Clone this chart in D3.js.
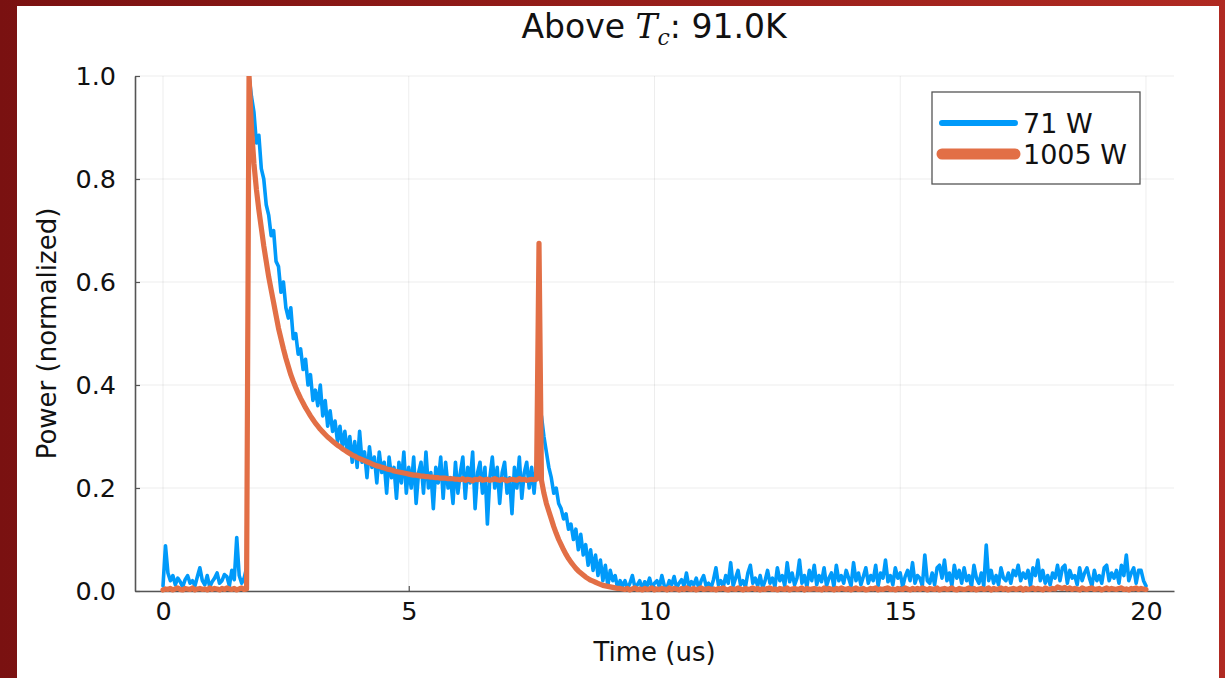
<!DOCTYPE html>
<html>
<head>
<meta charset="utf-8">
<script src="https://cdn.jsdelivr.net/npm/d3@7"></script>
<style>
  html, body { margin: 0; padding: 0; background: #8a1414; }
  svg { display: block; }
  text { font-family: "DejaVu Sans", sans-serif; fill: #111; }
</style>
</head>
<body>
<svg id="chart" width="1225" height="678"></svg>
<script>
// ---------------- data ----------------
const title = "Above ";
const titleMath = "T";
const titleSub = "c";
const titleRest = ": 91.0K";
const xLabel = "Time (us)";
const yLabel = "Power (normalized)";
const seriesNames = ["71 W", "1005 W"];
const xTicks = [0, 5, 10, 15, 20];
const yTicks = [0.0, 0.2, 0.4, 0.6, 0.8, 1.0];
const xDomain = [-0.57, 20.57];
const yDomain = [0, 1];
const timeStart = 0;     // us
const timeStep = 0.05;   // us, sample spacing

// 71 W (blue), one value per sample
const power71 = [
  // 0.00 - 1.70
  0.01, 0.088, 0.035, 0.02, 0.03, 0.012, 0.025, 0.018, 0.008, 0.022,
  0.03, 0.015, 0.02, 0.01, 0.028, 0.045, 0.02, 0.012, 0.03, 0.008,
  0.018, 0.025, 0.035, 0.015, 0.02, 0.032, 0.028, 0.01, 0.04, 0.022,
  0.104, 0.03, 0.015, 0.025, 0.045,
  // 1.75 - 7.65
  1.0, 0.96, 0.93, 0.87, 0.885, 0.82, 0.80, 0.75, 0.73, 0.69,
  0.70, 0.64, 0.63, 0.58, 0.60, 0.55, 0.53, 0.55, 0.49, 0.50,
  0.46, 0.47, 0.43, 0.45, 0.40, 0.42, 0.37, 0.39, 0.36, 0.40,
  0.34, 0.37, 0.32, 0.35, 0.31, 0.33, 0.29, 0.32, 0.28, 0.31,
  0.27, 0.30, 0.25, 0.29, 0.24, 0.31, 0.25, 0.27, 0.22, 0.28,
  0.24, 0.26, 0.21, 0.27, 0.23, 0.25, 0.19, 0.26, 0.22, 0.24,
  0.18, 0.25, 0.21, 0.27, 0.19, 0.24, 0.20, 0.26, 0.17, 0.23,
  0.25, 0.19, 0.27, 0.20, 0.23, 0.16, 0.24, 0.21, 0.26, 0.18,
  0.25, 0.20, 0.22, 0.17, 0.25, 0.19, 0.23, 0.26, 0.18, 0.24,
  0.21, 0.27, 0.16, 0.23, 0.25, 0.19, 0.24, 0.13, 0.22, 0.26,
  0.20, 0.24, 0.17, 0.23, 0.25, 0.19, 0.22, 0.15, 0.24, 0.20,
  0.26, 0.18, 0.23, 0.25, 0.20, 0.24, 0.19, 0.25, 0.22,
  // 7.70 - 9.30
  0.34, 0.30, 0.27, 0.24, 0.22, 0.19, 0.20, 0.17, 0.16, 0.14,
  0.15, 0.12, 0.13, 0.10, 0.12, 0.08, 0.11, 0.07, 0.09, 0.05,
  0.08, 0.04, 0.07, 0.03, 0.06, 0.02, 0.05, 0.01, 0.04, 0.02,
  0.03, 0.005, 0.02,
  // 9.35 - 20.00
  0.01, 0.02, 0.005, 0.015, 0.03, 0.008, 0.012, 0.02, 0.004, 0.018, 0.01, 0.025, 0.006, 0.015, 0.02, 0.008, 0.03, 0.01, 0.005, 0.02,
  0.012, 0.028, 0.006, 0.015, 0.022, 0.01, 0.035, 0.008, 0.018, 0.012, 0.025, 0.005, 0.02, 0.03, 0.01, 0.015, 0.006, 0.022, 0.045, 0.012,
  0.02, 0.008, 0.03, 0.015, 0.055, 0.01, 0.025, 0.04, 0.012, 0.02, 0.008, 0.035, 0.05, 0.015, 0.025, 0.01, 0.03, 0.006, 0.02, 0.04,
  0.015, 0.025, 0.008, 0.045, 0.02, 0.03, 0.01, 0.055, 0.018, 0.035, 0.012, 0.025, 0.06, 0.015, 0.03, 0.008, 0.04, 0.02, 0.05, 0.012,
  0.03, 0.018, 0.045, 0.01, 0.025, 0.035, 0.008, 0.05, 0.02, 0.03, 0.015, 0.04, 0.025, 0.01, 0.055, 0.02, 0.035, 0.012, 0.028, 0.045,
  0.015, 0.03, 0.02, 0.05, 0.01, 0.035, 0.025, 0.06, 0.018, 0.03, 0.012, 0.045, 0.025, 0.035, 0.008, 0.028, 0.04, 0.02, 0.055, 0.015,
  0.03, 0.025, 0.01, 0.07, 0.02, 0.015, 0.035, 0.012, 0.045, 0.05, 0.025, 0.06, 0.02, 0.035, 0.01, 0.05, 0.025, 0.04, 0.015, 0.045,
  0.02, 0.03, 0.008, 0.05, 0.025, 0.015, 0.035, 0.01, 0.089, 0.02, 0.04, 0.015, 0.03, 0.012, 0.045, 0.025, 0.02, 0.035, 0.015, 0.04,
  0.03, 0.05, 0.02, 0.035, 0.025, 0.04, 0.01, 0.045, 0.03, 0.06, 0.02, 0.04, 0.015, 0.03, 0.012, 0.035, 0.025, 0.05, 0.02, 0.045,
  0.05, 0.015, 0.04, 0.025, 0.03, 0.012, 0.045, 0.02, 0.035, 0.045, 0.025, 0.01, 0.04, 0.02, 0.03, 0.015, 0.045, 0.05, 0.02, 0.035,
  0.025, 0.04, 0.015, 0.05, 0.03, 0.07, 0.02, 0.035, 0.045, 0.015, 0.04, 0.04, 0.02, 0.01
];

// 1005 W (orange), one value per sample
const power1005 = [
  // 0.00 - 1.70
  0.002, 0.004, 0.003, 0.005, 0.002, 0.004, 0.006, 0.003, 0.002, 0.005,
  0.004, 0.003, 0.006, 0.002, 0.004, 0.005, 0.003, 0.004, 0.002, 0.006,
  0.003, 0.005, 0.004, 0.002, 0.005, 0.003, 0.006, 0.004, 0.003, 0.005,
  0.002, 0.004, 0.006, 0.003, 0.004,
  // 1.75 - 5.00
  1.0, 0.90, 0.83, 0.78, 0.74, 0.705, 0.67, 0.64, 0.61, 0.585,
  0.56, 0.535, 0.51, 0.49, 0.47, 0.452, 0.436, 0.42, 0.407, 0.395,
  0.384, 0.374, 0.365, 0.356, 0.348, 0.34, 0.333, 0.326, 0.32, 0.314,
  0.309, 0.304, 0.299, 0.295, 0.291, 0.287, 0.283, 0.28, 0.276, 0.273,
  0.27, 0.267, 0.264, 0.262, 0.259, 0.257, 0.255, 0.253, 0.251, 0.249,
  0.247, 0.245, 0.243, 0.242, 0.240, 0.239, 0.237, 0.236, 0.235, 0.233,
  0.232, 0.231, 0.23, 0.229, 0.228, 0.227,
  // 5.05 - 6.00
  0.226, 0.225, 0.225, 0.224, 0.223, 0.223, 0.222, 0.222, 0.221, 0.221,
  0.220, 0.220, 0.219, 0.219, 0.219, 0.218, 0.218, 0.218, 0.217, 0.217,
  // 6.05 - 7.60
  0.216, 0.218, 0.215, 0.217, 0.216, 0.214, 0.217, 0.216, 0.218, 0.215,
  0.216, 0.217, 0.215, 0.216, 0.218, 0.216, 0.215, 0.217, 0.216, 0.214,
  0.216, 0.217, 0.216, 0.215, 0.218, 0.216, 0.217, 0.215, 0.216, 0.217,
  0.216, 0.217,
  // 7.65 spike
  0.675,
  // 7.70 - 9.30
  0.215, 0.19, 0.17, 0.155, 0.14, 0.125, 0.112, 0.1, 0.09, 0.08,
  0.071, 0.063, 0.056, 0.05, 0.044, 0.039, 0.035, 0.031, 0.027, 0.024,
  0.021, 0.019, 0.017, 0.015, 0.013, 0.011, 0.01, 0.009, 0.008, 0.007,
  0.006, 0.005, 0.005,
  // 9.35 - 20.00
  0.004, 0.003, 0.005, 0.002, 0.004, 0.006, 0.003, 0.004, 0.002, 0.005, 0.003, 0.004, 0.006, 0.002, 0.004, 0.003, 0.005, 0.004, 0.002, 0.006,
  0.003, 0.005, 0.004, 0.002, 0.005, 0.003, 0.006, 0.004, 0.003, 0.005, 0.002, 0.004, 0.006, 0.003, 0.004, 0.005, 0.003, 0.004, 0.002, 0.005,
  0.004, 0.006, 0.003, 0.002, 0.005, 0.004, 0.003, 0.006, 0.004, 0.002, 0.005, 0.003, 0.004, 0.006, 0.003, 0.005, 0.002, 0.004, 0.003, 0.005,
  0.006, 0.003, 0.004, 0.002, 0.005, 0.004, 0.003, 0.006, 0.002, 0.004, 0.005, 0.003, 0.004, 0.006, 0.002, 0.005, 0.003, 0.004, 0.005, 0.003,
  0.004, 0.002, 0.006, 0.003, 0.005, 0.004, 0.002, 0.005, 0.003, 0.006, 0.004, 0.003, 0.005, 0.002, 0.004, 0.006, 0.003, 0.004, 0.005, 0.002,
  0.003, 0.005, 0.004, 0.006, 0.002, 0.004, 0.003, 0.005, 0.006, 0.003, 0.004, 0.002, 0.005, 0.004, 0.003, 0.006, 0.004, 0.002, 0.005, 0.003,
  0.005, 0.003, 0.006, 0.004, 0.002, 0.005, 0.004, 0.003, 0.006, 0.002, 0.004, 0.005, 0.003, 0.004, 0.006, 0.003, 0.002, 0.005, 0.004, 0.003,
  0.004, 0.006, 0.003, 0.005, 0.002, 0.004, 0.005, 0.003, 0.004, 0.006, 0.002, 0.005, 0.003, 0.004, 0.006, 0.003, 0.005, 0.002, 0.004, 0.005,
  0.003, 0.004, 0.006, 0.002, 0.005, 0.003, 0.004, 0.006, 0.003, 0.005, 0.004, 0.002, 0.006, 0.004, 0.003, 0.005, 0.004, 0.008, 0.006, 0.005,
  0.007, 0.004, 0.006, 0.003, 0.005, 0.004, 0.002, 0.006, 0.004, 0.003, 0.005, 0.006, 0.003, 0.004, 0.005, 0.002, 0.004, 0.006, 0.003, 0.005,
  0.004, 0.003, 0.005, 0.006, 0.003, 0.004, 0.002, 0.005, 0.004, 0.006, 0.003, 0.005, 0.004, 0.003
];

const seriesColors = ["#009AFA", "#E26F46"];

// ---------------- drawing ----------------
const svg = d3.select("#chart");
const W = 1225, H = 678;

const defs = svg.append("defs");
const grad = defs.append("linearGradient").attr("id", "bg")
  .attr("x1", "0%").attr("y1", "0%").attr("x2", "100%").attr("y2", "0%");
grad.append("stop").attr("offset", "0%").attr("stop-color", "#7a1111");
grad.append("stop").attr("offset", "100%").attr("stop-color", "#b02a22");
svg.append("rect").attr("width", W).attr("height", H).attr("fill", "url(#bg)");
svg.append("rect").attr("x", 17).attr("y", 6).attr("width", 1202).attr("height", 672).attr("fill", "#ffffff");

const x = d3.scaleLinear().domain(xDomain).range([135, 1174]);
const y = d3.scaleLinear().domain(yDomain).range([591, 76]);

defs.append("clipPath").attr("id", "plotclip")
  .append("rect").attr("x", x.range()[0]).attr("y", y.range()[1])
  .attr("width", x.range()[1] - x.range()[0]).attr("height", 678 - y.range()[1]);

// grid
const grid = svg.append("g");
grid.selectAll(".gx").data(xTicks).join("line")
  .attr("x1", d => x(d)).attr("x2", d => x(d))
  .attr("y1", y.range()[0]).attr("y2", y.range()[1])
  .attr("stroke", "#000").attr("stroke-opacity", 0.07).attr("stroke-width", 1);
grid.selectAll(".gy").data(yTicks).join("line")
  .attr("x1", x.range()[0]).attr("x2", x.range()[1])
  .attr("y1", d => y(d)).attr("y2", d => y(d))
  .attr("stroke", "#000").attr("stroke-opacity", 0.07).attr("stroke-width", 1);

// axes
const xAxis = d3.axisBottom(x).tickValues(xTicks).tickFormat(d3.format("d")).tickSizeInner(-5).tickSizeOuter(0).tickPadding(18);
const yAxis = d3.axisLeft(y).tickValues(yTicks).tickFormat(d3.format(".1f")).tickSizeInner(-5).tickSizeOuter(0).tickPadding(19);

const gx = svg.append("g").attr("transform", `translate(0,${y.range()[0]})`).call(xAxis);
const gy = svg.append("g").attr("transform", `translate(${x.range()[0]},0)`).call(yAxis);
[gx, gy].forEach(g => {
  g.select(".domain").attr("stroke", "#555").attr("stroke-width", 1.6);
  g.selectAll(".tick line").attr("stroke", "#555").attr("stroke-width", 1.2);
  g.selectAll(".tick text").attr("font-family", "DejaVu Sans").attr("font-size", 25.5).attr("fill", "#111");
});
gy.selectAll(".tick text").attr("dy", "0.35em");
gx.selectAll(".tick text").attr("dy", "0.71em").attr("y", 11);

// series
const times = power71.map((_, i) => timeStart + i * timeStep);
const line = d3.line().x(d => x(d[0])).y(d => y(d[1]));
const plot = svg.append("g").attr("clip-path", "url(#plotclip)");
const s71 = power71.map((v, i) => [times[i], v]);
const s1005 = power1005.slice(0, times.length).map((v, i) => [times[i], v]);
plot.append("path").datum(s71).attr("d", line)
  .attr("fill", "none").attr("stroke", seriesColors[0]).attr("stroke-width", 3.6)
  .attr("stroke-linejoin", "round").attr("stroke-linecap", "round");
plot.append("path").datum(s1005).attr("d", line)
  .attr("fill", "none").attr("stroke", seriesColors[1]).attr("stroke-width", 5.2)
  .attr("stroke-linejoin", "round").attr("stroke-linecap", "round");

// title
const t = svg.append("text").attr("x", 654).attr("y", 38).attr("text-anchor", "middle")
  .attr("font-size", 33);
t.append("tspan").text(title);
t.append("tspan").attr("font-family", "DejaVu Serif").attr("font-style", "italic").text(titleMath);
t.append("tspan").attr("font-family", "DejaVu Serif").attr("font-style", "italic")
  .attr("font-size", 22).attr("dy", 7).text(titleSub);
t.append("tspan").attr("dy", -7).text(titleRest);

// axis labels
svg.append("text").attr("x", (x(0) + x(20)) / 2).attr("y", 661).attr("text-anchor", "middle")
  .attr("font-size", 26).text(xLabel);
svg.append("text").attr("transform", `translate(56,${(y.range()[0] + y.range()[1]) / 2}) rotate(-90)`)
  .attr("text-anchor", "middle").attr("font-size", 26).text(yLabel);

// legend
const lg = svg.append("g");
lg.append("rect").attr("x", 932).attr("y", 92).attr("width", 208).attr("height", 92)
  .attr("fill", "#fff").attr("stroke", "#555").attr("stroke-width", 1.3);
const legendW = [6, 11];
seriesNames.forEach((name, i) => {
  const ly = 123 + i * 31;
  lg.append("line").attr("x1", 942).attr("x2", 1015).attr("y1", ly).attr("y2", ly)
    .attr("stroke", seriesColors[i]).attr("stroke-width", legendW[i]).attr("stroke-linecap", "round");
  lg.append("text").attr("x", 1023).attr("y", ly + 10).attr("font-size", 27).text(name);
});
</script>
</body>
</html>
